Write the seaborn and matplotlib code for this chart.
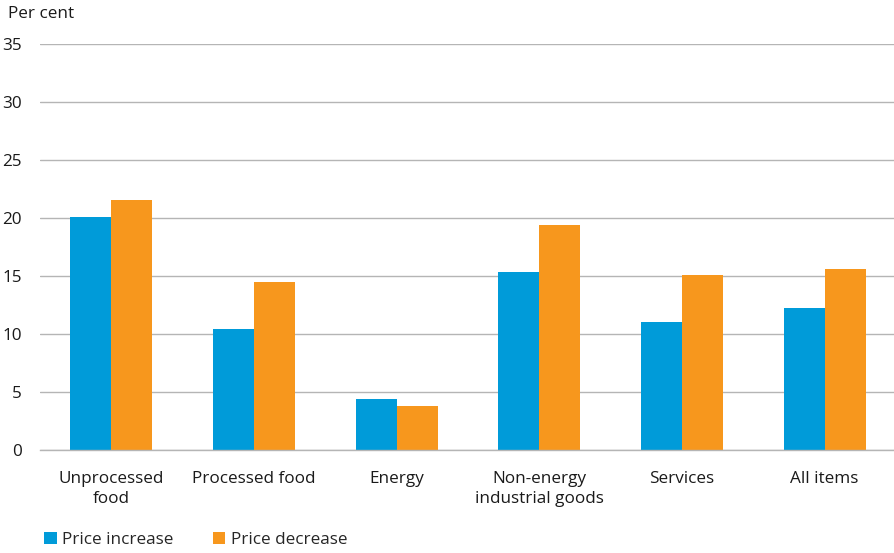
import matplotlib
matplotlib.use("Agg")
import matplotlib.pyplot as plt
import seaborn as sns
import pandas as pd
import numpy as np
from matplotlib.patches import Patch

categories = ["Unprocessed\nfood", "Processed food", "Energy",
              "Non-energy\nindustrial goods", "Services", "All items"]
price_increase = [20.1, 10.45, 4.4, 15.35, 11.05, 12.25]
price_decrease = [21.55, 14.5, 3.8, 19.4, 15.1, 15.6]
series_names = ["Price increase", "Price decrease"]
y_ticks = [0, 5, 10, 15, 20, 25, 30, 35]

colors = ["#009BD9", "#F7971D"]

df = pd.DataFrame({
    "category": categories * 2,
    "value": price_increase + price_decrease,
    "series": [series_names[0]] * len(categories) + [series_names[1]] * len(categories),
})

sns.set_theme(style="white")
plt.rcParams['font.family'] = ['Open Sans', 'DejaVu Sans']
FS = 12.3

fig = plt.figure(figsize=(8.94, 5.53), dpi=100)
ax = fig.add_axes([40 / 894, 1 - 450 / 553, 856 / 894, (450 - 44) / 553])

sns.barplot(data=df, x="category", y="value", hue="series", order=categories,
            hue_order=series_names, palette=colors, width=0.575, saturation=1,
            ax=ax, legend=False, linewidth=0)

ax.set_ylim(0, 35)
ax.set_xlim(-0.5, len(categories) - 0.5)
ax.set_yticks(y_ticks)
ax.set_yticklabels([str(t) for t in y_ticks], fontsize=FS, color="#1a1a1a")
ax.yaxis.grid(True, color="#b5b5b5", linewidth=1)
ax.set_axisbelow(True)
ax.tick_params(axis="y", length=0, pad=13)
ax.tick_params(axis="x", which="major", length=0, pad=15, labelsize=FS, labelcolor="#1a1a1a")
ax.set_xticks(np.arange(-0.5, len(categories), 1.0), minor=True)
ax.tick_params(axis="x", which="minor", length=5, width=1, color="#b5b5b5", direction="out")
for lab in ax.get_xticklabels():
    lab.set_linespacing(1.35)

for s in ["top", "right", "left"]:
    ax.spines[s].set_visible(False)
ax.spines["bottom"].set_color("#b5b5b5")
ax.spines["bottom"].set_linewidth(1)
ax.set_xlabel("")
ax.set_ylabel("")

fig.text(8 / 894, 1 - 14 / 553, "Per cent", fontsize=FS, color="#1a1a1a", va="center", ha="left")

handles = [Patch(facecolor=c, edgecolor="none") for c in colors]
fig.legend(handles, series_names, loc="center left", bbox_to_anchor=(44 / 894, 1 - 540 / 553),
           ncol=2, frameon=False, fontsize=FS, handlelength=0.75, handleheight=0.75,
           handletextpad=0.3, columnspacing=2.3, borderaxespad=0, borderpad=0)

fig.savefig("out.png", dpi=100)
